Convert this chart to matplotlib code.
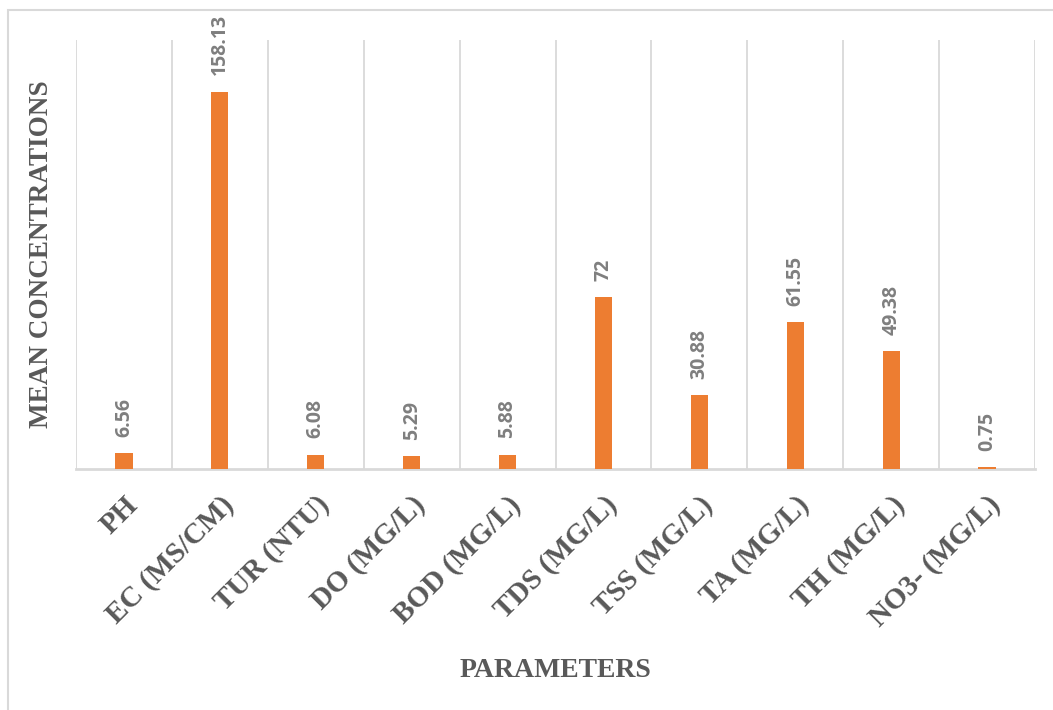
import matplotlib
matplotlib.use("Agg")
import matplotlib.pyplot as plt
import numpy as np
from matplotlib.patches import Rectangle

# chart data
parameters = ["PH", "EC (MS/CM)", "TUR (NTU)", "DO (MG/L)", "BOD (MG/L)",
              "TDS (MG/L)", "TSS (MG/L)", "TA (MG/L)", "TH (MG/L)", "NO3- (MG/L)"]
mean_values = [6.56, 158.13, 6.08, 5.29, 5.88, 72, 30.88, 61.55, 49.38, 0.75]
value_labels = ["6.56", "158.13", "6.08", "5.29", "5.88", "72", "30.88", "61.55", "49.38", "0.75"]

bar_color = "#ED7D31"
grid_color = "#D9D9D9"
text_color = "#595959"
label_color = "#7F7F7F"

fig = plt.figure(figsize=(10.53, 7.10), dpi=100)
ax = fig.add_axes([76 / 1053, 1 - 469 / 710, (1035 - 76) / 1053, (469 - 40) / 710])

# outer chart frame (left and top edges visible)
fig.patches.append(Rectangle((8 / 1053, -0.1), 1.2, 1 - 10 / 710 + 0.1, transform=fig.transFigure,
                             fill=False, edgecolor=grid_color, linewidth=1.5))

x = np.arange(len(parameters))
ax.bar(x, mean_values, width=0.18, color=bar_color, zorder=3)

# value labels above bars
for xi, v, lab in zip(x, mean_values, value_labels):
    ax.annotate(lab, (xi, v), xytext=(0, 12), textcoords="offset points",
                rotation=90, ha="center", va="bottom", fontsize=14,
                fontweight="bold", color=label_color, family="Open Sans")

ax.set_xlim(-0.5, len(parameters) - 0.5)
ax.set_ylim(0, 180)

# vertical gridlines at category boundaries
for b in np.arange(-0.5, len(parameters), 1.0):
    ax.axvline(b, color=grid_color, linewidth=1.3, zorder=1)

for s in ["top", "right", "left"]:
    ax.spines[s].set_visible(False)
ax.spines["bottom"].set_color(grid_color)
ax.spines["bottom"].set_linewidth(2)
ax.set_yticks([])

ax.set_xticks(x)
ax.set_xticklabels(parameters, rotation=45, ha="right", rotation_mode="anchor",
                   fontsize=21, fontweight="bold", family="Liberation Serif", color=text_color)
ax.tick_params(axis="x", length=0, pad=16)

ax.set_ylabel("MEAN CONCENTRATIONS", fontsize=19.5, fontweight="bold",
              family="Liberation Serif", color=text_color, labelpad=16)
ax.set_xlabel("PARAMETERS", fontsize=20, fontweight="bold",
              family="Liberation Serif", color=text_color)
ax.xaxis.set_label_coords(0.5, -0.44)

fig.savefig("out.png", dpi=100)
